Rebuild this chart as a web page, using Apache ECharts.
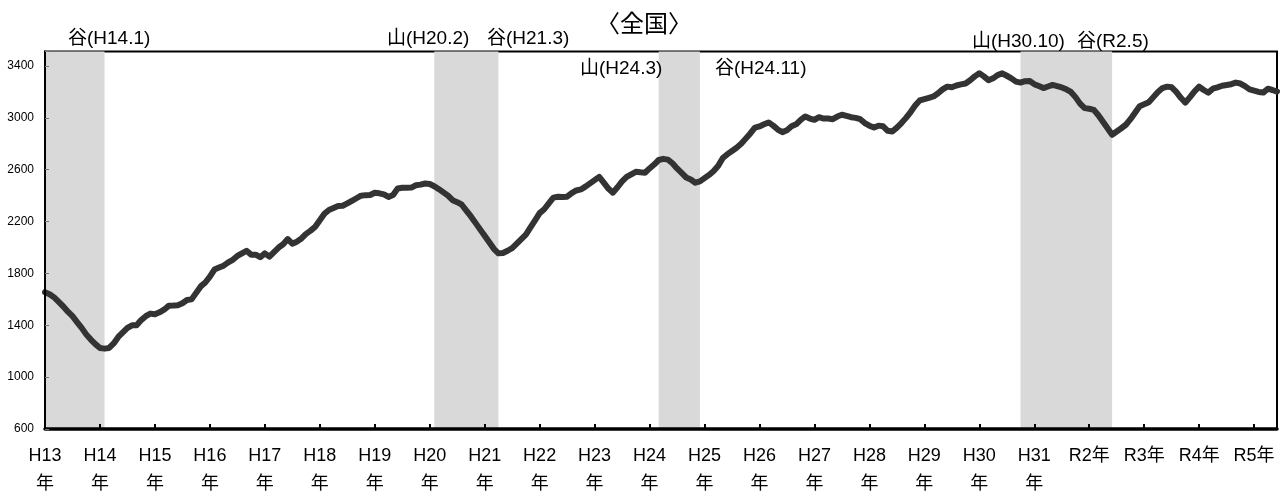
<!DOCTYPE html>
<html><head><meta charset="utf-8">
<script src="https://cdn.jsdelivr.net/npm/echarts@6/dist/echarts.min.js"></script>
<style>html,body{margin:0;padding:0;background:#fff}#c{width:1288px;height:498px}</style>
</head><body><div id="c"></div>
<script>
// Year tick labels (one per January)
const yearLabels = ['H13\n年','H14\n年','H15\n年','H16\n年','H17\n年','H18\n年','H19\n年','H20\n年','H21\n年','H22\n年','H23\n年','H24\n年','H25\n年','H26\n年','H27\n年','H28\n年','H29\n年','H30\n年','H31\n年','R2年','R3年','R4年','R5年'];

// Monthly values (Jan..Dec)
const vH13 = [1655,1640,1615,1580,1545,1505,1470,1425,1380,1330,1290,1255];
const vH14 = [1225,1220,1225,1260,1310,1345,1380,1400,1400,1440,1470,1490];
const vH15 = [1485,1500,1520,1550,1552,1555,1570,1595,1600,1650,1700,1730];
const vH16 = [1775,1830,1845,1860,1885,1905,1935,1955,1975,1945,1945,1925];
const vH17 = [1955,1930,1965,2000,2025,2065,2030,2045,2070,2105,2130,2160];
const vH18 = [2210,2260,2290,2305,2320,2322,2340,2360,2380,2400,2404,2405];
const vH19 = [2422,2418,2410,2390,2405,2455,2461,2461,2462,2480,2485,2494];
const vH20 = [2490,2473,2450,2425,2400,2365,2350,2330,2285,2240,2190,2140];
const vH21 = [2090,2040,1990,1955,1958,1975,1995,2030,2065,2100,2155,2210];
const vH22 = [2265,2295,2340,2385,2392,2390,2392,2420,2440,2448,2470,2495];
const vH23 = [2520,2545,2500,2455,2423,2465,2510,2545,2565,2584,2580,2577];
const vH24 = [2610,2640,2675,2684,2678,2650,2610,2575,2540,2525,2500,2510];
const vH25 = [2535,2560,2590,2630,2690,2720,2745,2770,2800,2840,2880,2925];
const vH26 = [2934,2950,2965,2940,2910,2890,2905,2935,2950,2985,3011,2995];
const vH27 = [2985,3005,2995,2995,2990,3010,3024,3015,3005,3000,2990,2960];
const vH28 = [2940,2925,2940,2935,2900,2895,2925,2960,3000,3045,3095,3135];
const vH29 = [3145,3155,3165,3190,3220,3241,3236,3250,3258,3265,3290,3320];
const vH30 = [3344,3320,3290,3305,3330,3344,3325,3305,3280,3272,3283,3285];
const vH31 = [3260,3245,3230,3242,3254,3245,3235,3220,3200,3160,3110,3075];
const vR2  = [3070,3062,3020,2970,2920,2870,2895,2920,2947,2990,3040,3090];
const vR3  = [3105,3120,3160,3200,3230,3241,3236,3200,3155,3118,3160,3205];
const vR4  = [3241,3215,3195,3225,3235,3248,3254,3260,3272,3265,3245,3220];
const vR5  = [3210,3200,3195,3225,3215,3203];

// Business cycle peaks (山) and troughs (谷)
const recessions = [['H12.11','H14.1'],['H20.2','H21.3'],['H24.3','H24.11'],['H30.10','R2.5']];
const cycleTexts = ['谷(H14.1)','山(H20.2)','谷(H21.3)','山(H24.3)','谷(H24.11)','山(H30.10)','谷(R2.5)'];
const yTicks = [600,1000,1400,1800,2200,2600,3000,3400];
const titleText = '〈全国〉';

// layout (pixel positions of the annotation texts)
const cycleTextPos = [[68,40],[387,40],[487,40],[580,70],[715,70],[972,43],[1077,43]];

const allVals = [].concat(vH13,vH14,vH15,vH16,vH17,vH18,vH19,vH20,vH21,vH22,vH23,vH24,vH25,vH26,vH27,vH28,vH29,vH30,vH31,vR2,vR3,vR4,vR5);
const seriesData = allVals.map((v,i)=>[i,v]);
const lastIdx = allVals.length - 1;

function monthIndex(s){
  const era = s[0];
  const parts = s.slice(1).split('.');
  const y = +parts[0], m = +parts[1];
  const year = era === 'H' ? 1988 + y : 2018 + y;
  return (year - 2001) * 12 + (m - 1);
}
const areas = recessions.map(([p,t]) => [
  {xAxis: Math.max(0, monthIndex(p))},
  {xAxis: Math.min(lastIdx, monthIndex(t) + 1)}
]);

const FONT = "'Liberation Sans','Noto Sans CJK JP',sans-serif";
const yMin = yTicks[0], yStep = yTicks[1]-yTicks[0];

const chart = echarts.init(document.getElementById('c'), null, {renderer:'canvas'});
chart.setOption({
  animation:false,
  backgroundColor:'#fff',
  title:{text:titleText, left:'center', top:8, textStyle:{fontFamily:FONT, fontSize:24, fontWeight:'normal', color:'#000'}},
  grid:{left:45, right:11, top:51.5, bottom:67, show:true, borderColor:'#000', borderWidth:2, backgroundColor:'transparent'},
  xAxis:{
    type:'value', min:0, max:lastIdx, interval:12, z:5,
    axisLine:{show:true, onZero:false, lineStyle:{color:'#000', width:3.5}},
    axisTick:{show:true, inside:true, length:5, lineStyle:{color:'#000', width:2}},
    splitLine:{show:false},
    axisLabel:{
      margin:13, fontFamily:FONT, fontSize:18, lineHeight:28, color:'#000',
      formatter:(v)=> (v % 12 === 0 && yearLabels[v/12]) ? yearLabels[v/12] : ''
    }
  },
  yAxis:{
    type:'value', min:yMin, max:3512, interval:yStep, z:5,
    axisLine:{show:true, lineStyle:{color:'#000', width:2}},
    axisTick:{show:true, inside:true, length:4, lineStyle:{color:'#777', width:1}},
    splitLine:{show:false},
    axisLabel:{margin:11, fontFamily:FONT, fontSize:12, color:'#000',
      formatter:(v)=> yTicks.indexOf(v) >= 0 ? String(v) : ''}
  },
  graphic: cycleTexts.map((t,i)=>({
    type:'text', left:cycleTextPos[i][0], top:cycleTextPos[i][1]-11, z:10,
    style:{text:t, font:'19px ' + FONT, fill:'#000'}
  })),
  series:[{
    type:'line', data:seriesData, showSymbol:false, smooth:false,
    lineStyle:{color:'#333333', width:6, join:'round', cap:'round'},
    markArea:{silent:true, itemStyle:{color:'#d9d9d9', opacity:1}, data:areas}
  }]
});
</script></body></html>
